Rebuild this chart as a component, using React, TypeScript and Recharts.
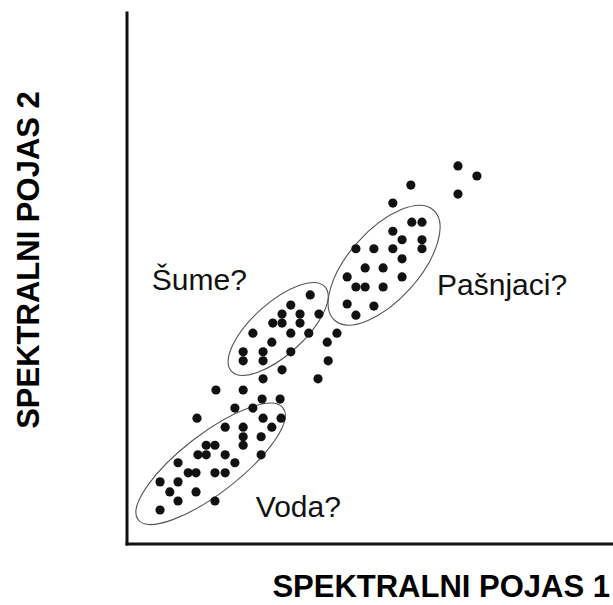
import React from 'react';
import { ScatterChart, Scatter, XAxis, YAxis } from 'recharts';

// ---- data (arbitrary spectral band units, 0-100) ----
const vodaPoints: [number, number][] = [
  [20.2, 22.0], [23.9, 22.0], [23.9, 20.2], [23.9, 18.6], [29.8, 22.0], [27.6, 20.2],
  [16.3, 18.6], [18.1, 18.6], [14.6, 16.8], [16.3, 16.8], [20.2, 16.8], [27.6, 16.8],
  [10.5, 15.3], [22.2, 15.3], [12.6, 13.4], [14.2, 13.4], [18.1, 13.4], [20.2, 13.4],
  [6.8, 11.7], [10.5, 11.7], [8.8, 9.8], [14.2, 9.8], [10.5, 8.1], [18.1, 8.1], [6.8, 6.4],
];
const betweenPoints: [number, number][] = [
  [43.2, 39.7], [41.2, 38.0], [41.4, 34.5], [39.3, 31.1], [31.9, 32.8], [28.0, 31.1],
  [18.3, 29.0], [23.9, 29.0], [27.8, 27.3], [31.5, 27.3], [22.2, 25.6], [25.9, 25.6],
  [14.4, 23.7], [28.0, 23.7], [31.7, 23.7],
];
const sumePoints: [number, number][] = [
  [37.7, 46.9], [33.7, 45.0], [31.9, 43.3], [35.6, 43.3], [39.5, 43.3], [30.0, 41.6],
  [31.9, 41.6], [35.6, 41.6], [25.9, 39.7], [33.7, 39.7], [37.4, 39.7], [29.8, 38.0],
  [23.9, 36.2], [23.9, 34.5], [28.0, 36.2], [28.0, 34.5], [33.7, 36.2],
];
const pasnjaciPoints: [number, number][] = [
  [58.6, 60.6], [60.7, 60.6], [54.7, 58.9], [56.6, 57.3], [60.7, 57.3], [60.7, 55.6],
  [47.1, 55.6], [50.8, 55.6], [54.7, 55.6], [56.6, 53.7], [49.0, 52.0], [52.7, 52.0],
  [45.3, 50.3], [56.6, 50.3], [47.1, 48.4], [49.0, 48.4], [52.7, 48.4], [45.3, 45.2],
  [50.8, 44.8], [47.1, 43.1],
];
const outerPoints: [number, number][] = [
  [68.1, 71.2], [72.0, 69.3], [68.1, 65.9], [58.4, 67.6], [54.7, 64.2],
];

const annotationText = ['Šume?', 'Pašnjaci?', 'Voda?'];
const annotationX = [5.1, 63.8, 26.5];
const annotationY = [47.8, 46.9, 5.1];

const ellipseCenterX = [17.2, 31.1, 52.9];
const ellipseCenterY = [15.1, 40.5, 52.5];

const xTitle = 'SPEKTRALNI POJAS 1';
const yTitle = 'SPEKTRALNI POJAS 2';

// ---- styling (pixels) ----
const ellipseRx = [91.5, 63, 74];
const ellipseRy = [29.5, 26, 35];
const ellipseAngle = [37.7, 42, 48];

const FONT = "'Liberation Sans', Arial, Helvetica, sans-serif";

const toObjs = (pts: [number, number][]) => pts.map(([x, y]) => ({ x, y }));

const annotations = annotationText.map((label, i) => ({ x: annotationX[i], y: annotationY[i], label }));
const ellipses = ellipseCenterX.map((x, i) => ({ x, y: ellipseCenterY[i], idx: i }));

const DotShape = (props: any) => {
  const { cx, cy } = props;
  if (cx == null || cy == null) return null;
  return <circle cx={cx} cy={cy} r={4.6} fill="#111" />;
};

const EllipseShape = (props: any) => {
  const { cx, cy, payload } = props;
  if (cx == null || cy == null) return null;
  const i = payload.idx;
  return (
    <ellipse
      cx={cx}
      cy={cy}
      rx={ellipseRx[i]}
      ry={ellipseRy[i]}
      transform={`rotate(${-ellipseAngle[i]} ${cx} ${cy})`}
      fill="none"
      stroke="#555"
      strokeWidth={1.1}
    />
  );
};

const TextShape = (props: any) => {
  const { cx, cy, payload } = props;
  if (cx == null || cy == null) return null;
  return (
    <text x={cx} y={cy} fill="#111" fontSize={30} fontFamily={FONT} textAnchor="start">
      {payload.label}
    </text>
  );
};

const XTitle = (props: any) => {
  const vb = props.viewBox || {};
  return (
    <text
      x={vb.x + vb.width - 3}
      y={vb.y + 53}
      textAnchor="end"
      fontSize={31}
      fontWeight="bold"
      fontFamily={FONT}
      fill="#000"
    >
      {xTitle}
    </text>
  );
};

const YTitle = (props: any) => {
  const vb = props.viewBox || {};
  const x = vb.x + vb.width - 88;
  const y = vb.y + 247;
  return (
    <text
      x={x}
      y={y}
      transform={`rotate(-90 ${x} ${y})`}
      textAnchor="middle"
      fontSize={31}
      fontWeight="bold"
      fontFamily={FONT}
      fill="#000"
    >
      {yTitle}
    </text>
  );
};

export default function App() {
  return (
    <div style={{ position: 'absolute', left: 0, top: 0, background: '#fff' }}>
      <ScatterChart width={613} height={605} margin={{ top: 13, right: 0, bottom: 60, left: 126 }}>
        <XAxis
          type="number"
          dataKey="x"
          domain={[0, 100]}
          allowDataOverflow
          tick={false}
          tickLine={false}
          height={1}
          axisLine={{ stroke: '#111', strokeWidth: 3, strokeLinecap: 'square' }}
          label={{ content: XTitle }}
        />
        <YAxis
          type="number"
          dataKey="y"
          domain={[0, 100]}
          allowDataOverflow
          tick={false}
          tickLine={false}
          width={1}
          axisLine={{ stroke: '#111', strokeWidth: 3, strokeLinecap: 'square' }}
          label={{ content: YTitle }}
        />
        <Scatter data={ellipses} shape={EllipseShape} isAnimationActive={false} />
        <Scatter data={toObjs(vodaPoints)} shape={DotShape} isAnimationActive={false} />
        <Scatter data={toObjs(betweenPoints)} shape={DotShape} isAnimationActive={false} />
        <Scatter data={toObjs(sumePoints)} shape={DotShape} isAnimationActive={false} />
        <Scatter data={toObjs(pasnjaciPoints)} shape={DotShape} isAnimationActive={false} />
        <Scatter data={toObjs(outerPoints)} shape={DotShape} isAnimationActive={false} />
        <Scatter data={annotations} shape={TextShape} isAnimationActive={false} />
      </ScatterChart>
    </div>
  );
}
